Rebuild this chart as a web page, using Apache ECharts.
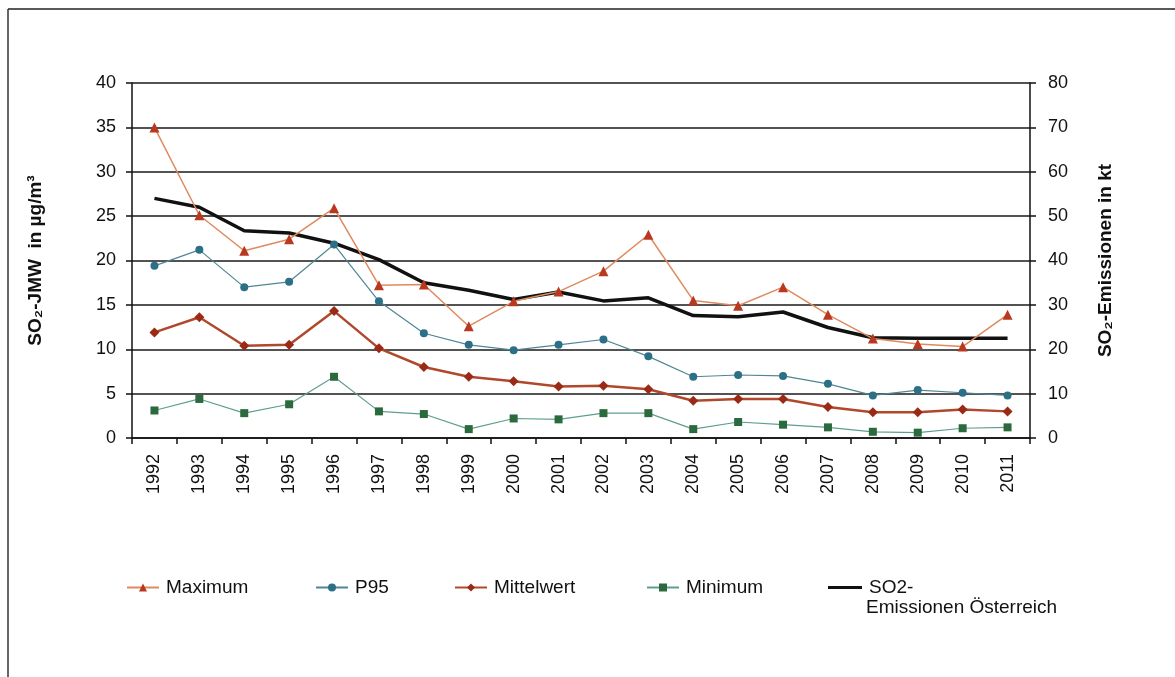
<!DOCTYPE html>
<html><head><meta charset="utf-8">
<script src="https://cdn.jsdelivr.net/npm/echarts@6/dist/echarts.min.js"></script>
<style>html,body{margin:0;padding:0;background:#fff}#c{width:1175px;height:677px}</style>
</head><body><div id="c"></div>
<script>
const years = ['1992','1993','1994','1995','1996','1997','1998','1999','2000','2001','2002','2003','2004','2005','2006','2007','2008','2009','2010','2011'];
const maximum = [35.0,25.1,21.1,22.4,25.9,17.2,17.3,12.6,15.4,16.5,18.8,22.9,15.5,14.9,17.0,13.9,11.2,10.6,10.3,13.9];
const p95 = [19.4,21.2,17.0,17.6,21.8,15.4,11.8,10.5,9.9,10.5,11.1,9.2,6.9,7.1,7.0,6.1,4.8,5.4,5.1,4.8];
const mittelwert = [11.9,13.6,10.4,10.5,14.3,10.1,8.0,6.9,6.4,5.8,5.9,5.5,4.2,4.4,4.4,3.5,2.9,2.9,3.2,3.0];
const minimum = [3.1,4.4,2.8,3.8,6.9,3.0,2.7,1.0,2.2,2.1,2.8,2.8,1.0,1.8,1.5,1.2,0.7,0.6,1.1,1.2];
const emissionen = [54.0,52.0,46.7,46.2,43.9,40.2,35.0,33.3,31.2,32.9,30.9,31.6,27.6,27.3,28.4,24.9,22.6,22.5,22.5,22.5];
const leftTicks = [0,5,10,15,20,25,30,35,40];
const rightTicks = [0,10,20,30,40,50,60,70,80];
const seriesNames = ['Maximum','P95','Mittelwert','Minimum','SO2-'];
const so2LegendSecondLine = 'Emissionen Österreich';

const font = 'Liberation Sans, Arial, sans-serif';
const chart = echarts.init(document.getElementById('c'), null, {renderer:'canvas'});
function leg(item, left, top, extra){
  return Object.assign({data:[item], left:left, top:top, orient:'horizontal', itemWidth:32, itemHeight:10, itemGap:0,
    textStyle:{fontFamily:font, fontSize:19, color:'#111', padding:[0,0,0,2]}, selectedMode:false}, extra||{});
}
chart.setOption({
  backgroundColor:'#ffffff',
  animation:false,
  grid:{left:132, right:145, top:83, bottom:239, containLabel:false},
  legend:[
    leg(seriesNames[0],121,573),
    leg(seriesNames[1],310,573),
    leg(seriesNames[2],449,573),
    leg(seriesNames[3],641,573),
    leg({name:seriesNames[4], icon:'rect', itemStyle:{color:'#111'}},823,573,{itemHeight:3, itemWidth:34})
  ],
  graphic:[
    {type:'line', shape:{x1:8,y1:9,x2:1175,y2:9}, style:{stroke:'#222', lineWidth:1.5}},
    {type:'line', shape:{x1:8,y1:9,x2:8,y2:677}, style:{stroke:'#333', lineWidth:1.5}},
    {type:'text', left:866, top:598, style:{text:so2LegendSecondLine, font:'19px Liberation Sans, Arial, sans-serif', fill:'#111'}}
  ],
  xAxis:{type:'category', data:years, boundaryGap:true,
    axisLine:{lineStyle:{color:'#111', width:1.5}},
    axisTick:{show:true, interval:0, length:6, lineStyle:{color:'#111', width:1.5}},
    axisLabel:{rotate:90, interval:0, fontFamily:font, fontSize:18, color:'#111', margin:16},
    splitLine:{show:false}},
  yAxis:[
    {type:'value', min:0, max:40, interval:5, position:'left',
     name:'SO₂-JMW  in µg/m³', nameLocation:'middle', nameRotate:90, nameGap:87,
     nameTextStyle:{fontFamily:font, fontSize:19, fontWeight:'bold', color:'#111'},
     axisLine:{show:true, lineStyle:{color:'#111', width:1.5}},
     axisTick:{show:true, length:6, lineStyle:{color:'#111', width:1.5}},
     axisLabel:{fontFamily:font, fontSize:18, color:'#111', margin:16,
       formatter:v=>leftTicks.includes(v)?String(v):''},
     splitLine:{show:true, lineStyle:{color:'#1a1a1a', width:1.5}}},
    {type:'value', min:0, max:80, interval:10, position:'right',
     name:'SO₂-Emissionen in kt', nameLocation:'middle', nameRotate:90, nameGap:66,
     nameTextStyle:{fontFamily:font, fontSize:19, fontWeight:'bold', color:'#111'},
     axisLine:{show:true, lineStyle:{color:'#111', width:1.5}},
     axisTick:{show:true, length:6, lineStyle:{color:'#111', width:1.5}},
     axisLabel:{fontFamily:font, fontSize:18, color:'#111', margin:18,
       formatter:v=>rightTicks.includes(v)?String(v):''},
     splitLine:{show:false}}
  ],
  series:[
    {name:seriesNames[4], type:'line', yAxisIndex:1, data:emissionen, symbol:'none',
     lineStyle:{color:'#111', width:3.5}, itemStyle:{color:'#111'}, z:3},
    {name:seriesNames[0], type:'line', data:maximum, symbol:'triangle', symbolSize:10,
     lineStyle:{color:'#df8a5e', width:1.5}, itemStyle:{color:'#b8391f'}, z:4},
    {name:seriesNames[1], type:'line', data:p95, symbol:'circle', symbolSize:8,
     lineStyle:{color:'#4e8794', width:1.2}, itemStyle:{color:'#2d6f86'}, z:4},
    {name:seriesNames[2], type:'line', data:mittelwert, symbol:'diamond', symbolSize:10,
     lineStyle:{color:'#b0482c', width:2.5}, itemStyle:{color:'#9a2a16'}, z:4},
    {name:seriesNames[3], type:'line', data:minimum, symbol:'rect', symbolSize:8,
     lineStyle:{color:'#5e9e92', width:1.2}, itemStyle:{color:'#2a6a3c'}, z:4}
  ]
});
</script></body></html>
